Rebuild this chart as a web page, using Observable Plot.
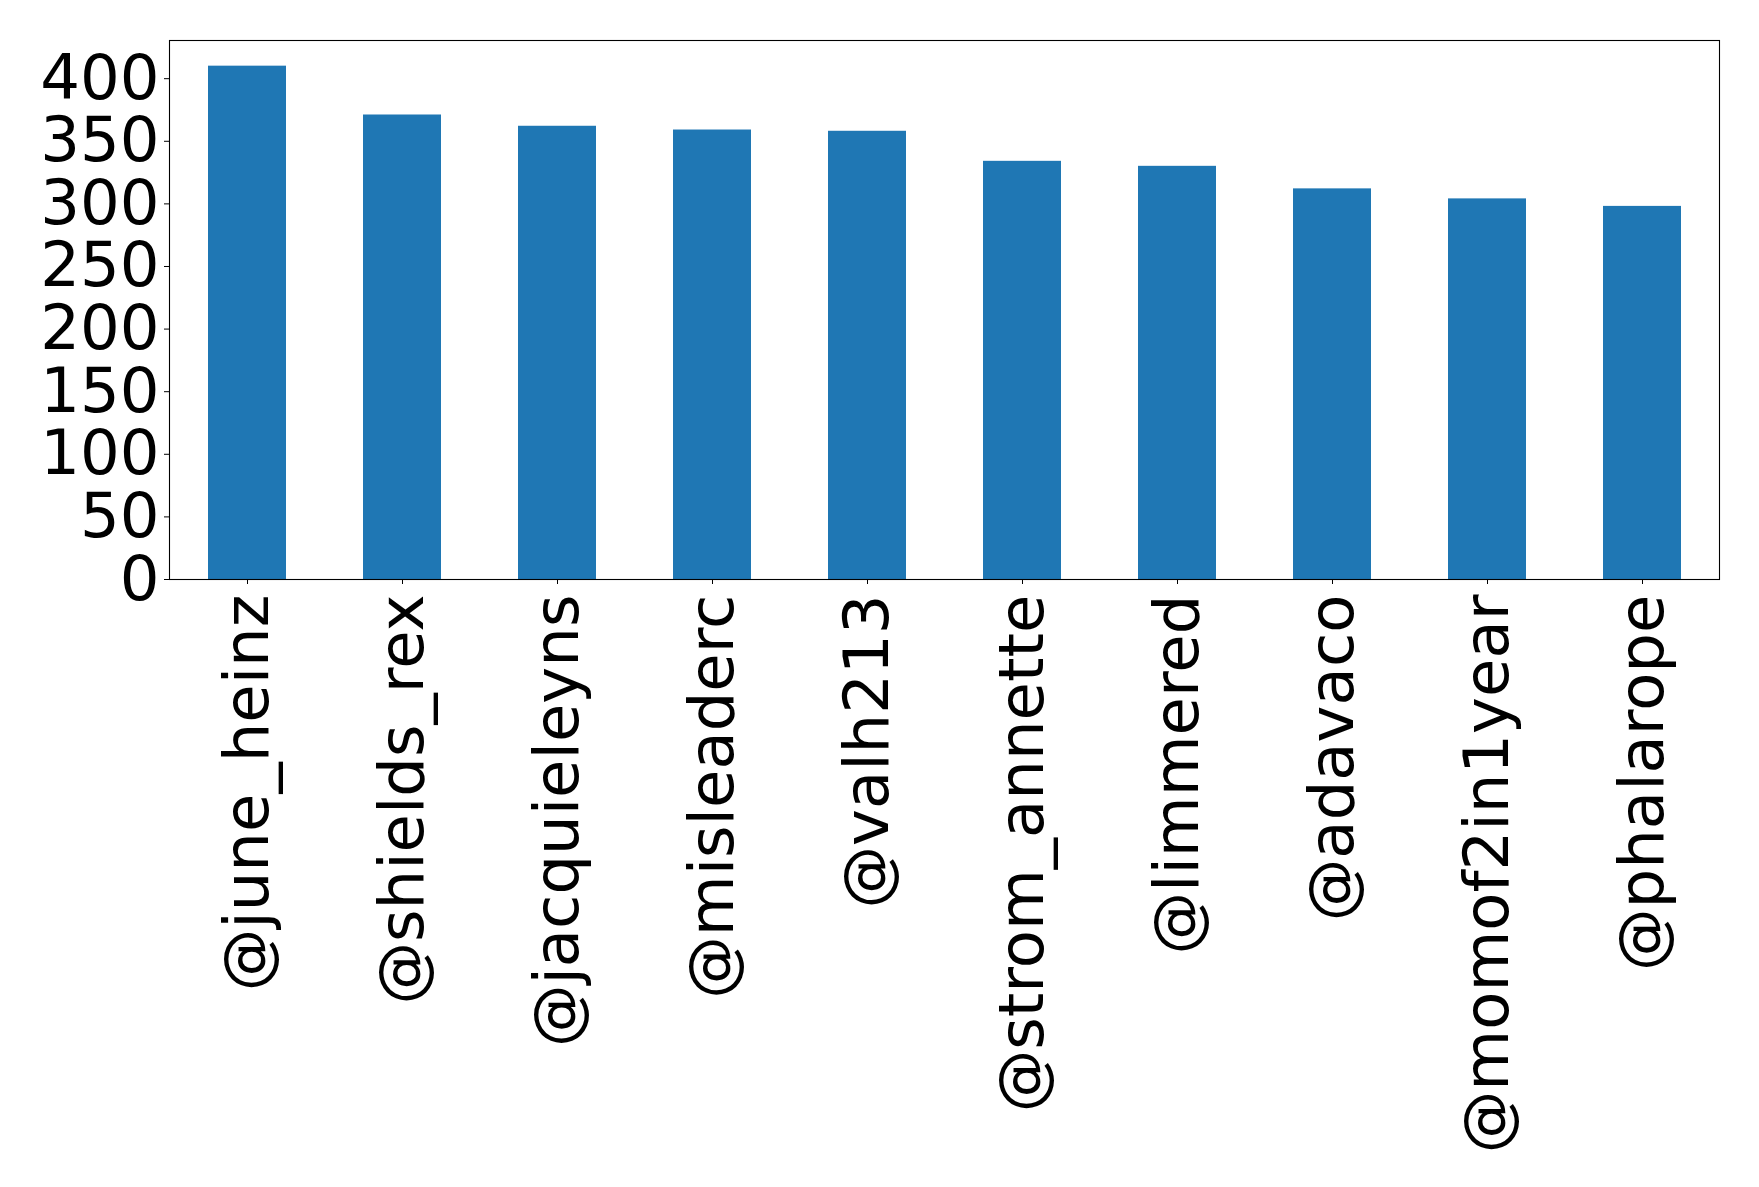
<!DOCTYPE html>
<html>
<head>
<meta charset="utf-8">
<script src="https://cdn.jsdelivr.net/npm/d3@7"></script>
<script src="https://cdn.jsdelivr.net/npm/@observablehq/plot@0.6"></script>
<style>
  html, body { margin: 0; padding: 0; background: #fff; }
</style>
</head>
<body>
<div id="chart"></div>
<script>
// Top accounts by count
const users = [
  "@june_heinz", "@shields_rex", "@jacquieleyns", "@misleaderc", "@valh213",
  "@strom_annette", "@limmered", "@adavaco", "@momof2in1year", "@phalarope"
];
const counts = [410, 371, 362, 359, 358, 334, 330, 312, 304, 298];
const yTicks = [0, 50, 100, 150, 200, 250, 300, 350, 400];

const rows = users.map((user, i) => ({ user, count: counts[i] }));

const chart = Plot.plot({
  width: 1759,
  height: 1187,
  marginLeft: 169,
  marginRight: 40,
  marginTop: 40,
  marginBottom: 608,
  style: {
    fontFamily: "'DejaVu Sans', sans-serif",
    fontSize: "62.5px",
    background: "#fff",
    color: "#000"
  },
  x: { domain: users, paddingInner: 0.5, paddingOuter: 0.25, label: null },
  y: { domain: [0, d3.max(counts) * 1.05], label: null },
  marks: [
    Plot.barY(rows, { x: "user", y: "count", fill: "#1f77b4" }),
    Plot.frame({ stroke: "#000", strokeWidth: 1.1 }),
    Plot.axisY({ ticks: yTicks, tickSize: 5, tickPadding: 5, fontSize: 62.5, label: null }),
    Plot.axisX({ tickSize: 5, tickPadding: 10, tickRotate: -90, fontSize: 62.5, label: null })
  ]
});

document.getElementById("chart").append(chart);
</script>
</body>
</html>
